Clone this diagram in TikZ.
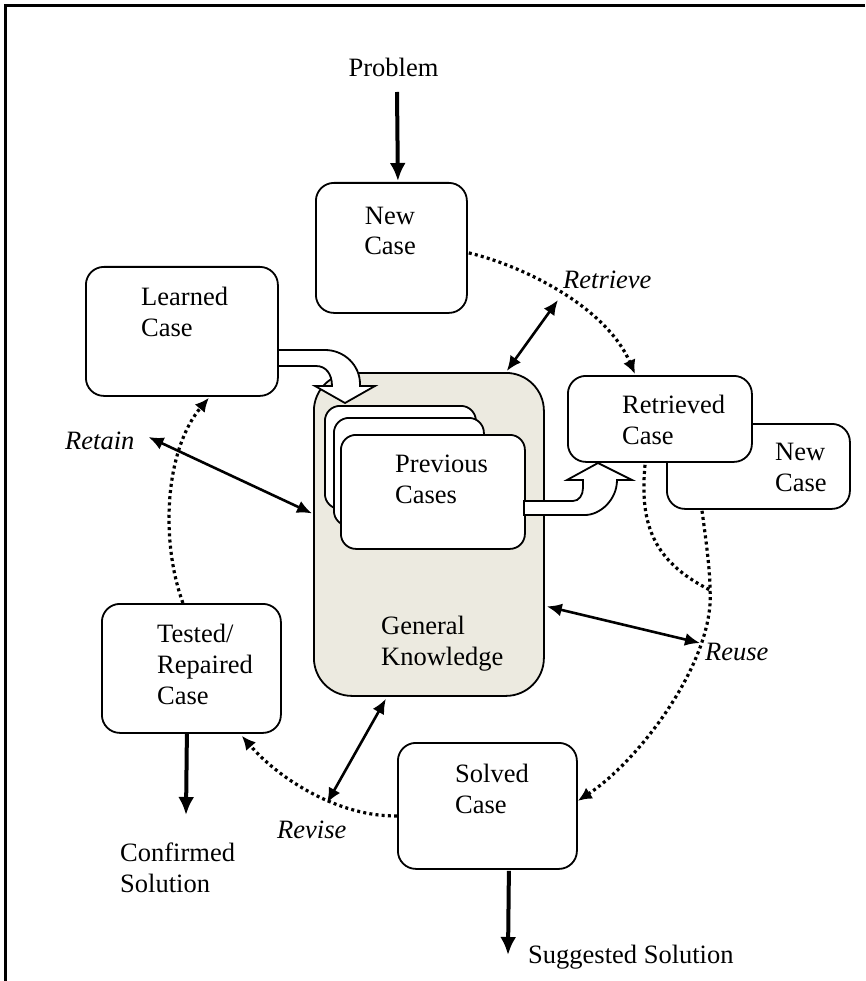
\documentclass[tikz,border=0pt]{standalone}
\usepackage{fontspec}
\setmainfont{Liberation Serif}
\usetikzlibrary{arrows.meta,calc}

\definecolor{gkfill}{RGB}{236,234,224}

\tikzset{
  casebox/.style={draw, line width=1.8pt, rounded corners=18pt, fill=white,
    inner sep=0pt, anchor=north west},
  caption/.style={inner sep=0pt, anchor=base west, align=left,
    font=\fontsize{26.5}{31}\selectfont},
  stage/.style={caption, font=\fontsize{26.5}{31}\selectfont\itshape},
  flow/.style={line width=4pt, -{Latex[length=18pt,width=16pt]}},
  link/.style={line width=2.6pt,
    {Latex[length=15pt,width=13pt]}-{Latex[length=15pt,width=13pt]}},
  dotline/.style={line width=3.2pt, dash pattern=on 3pt off 3.2pt},
  dotflow/.style={dotline, -{Latex[length=14pt,width=13pt]}},
  blockarrow/.style={draw, line width=1.8pt, fill=white, line join=miter},
}

\begin{document}
\begin{tikzpicture}[x=1pt, y=-1pt]
\useasboundingbox (0,0) rectangle (865,981);

% outer frame (top and left edges)
\draw[line width=2.5pt] (865,5.3) -- (5.3,5.3) -- (5.3,981);

% case base with general knowledge
\node[casebox, fill=gkfill, rounded corners=38pt,
      minimum width=230pt, minimum height=323pt] (genknow) at (313,372) {};

% stack of previous cases
\node[casebox, rounded corners=15pt, minimum width=151pt, minimum height=103pt] (prevback) at (324,405) {};
\node[casebox, rounded corners=15pt, minimum width=150pt, minimum height=108pt] (prevmid) at (333,417) {};
\node[casebox, rounded corners=15pt, minimum width=184pt, minimum height=114pt] (prevfront) at (340,434) {};

% block arrow: learned case into the case base
\path[blockarrow]
  (277,350) -- (325,350) .. controls (344,350) and (360,365) .. (360,384) -- (360,386)
  -- (375,386) -- (345,403) -- (315,386) -- (332,386)
  .. controls (332,374) and (326,366) .. (316,366) -- (277,366) -- cycle;

% block arrow: previous cases up to the retrieved case
\path[blockarrow]
  (524,501) -- (573,501) .. controls (579,501) and (583,495) .. (583,488) -- (583,480)
  -- (567,480) -- (598,463) -- (632,480) -- (617,480)
  .. controls (617,500) and (600,515) .. (585,515) -- (524,515) -- cycle;

% case boxes
\node[casebox, minimum width=151pt, minimum height=130pt] (newcase) at (315,182) {};
\node[casebox, minimum width=192pt, minimum height=129pt] (learned) at (85,266) {};
\node[casebox, minimum width=183pt, minimum height=85pt] (newcase2) at (666,423) {};
\node[casebox, minimum width=184pt, minimum height=86pt] (retrieved) at (567,375) {};
\node[casebox, minimum width=179pt, minimum height=129pt] (tested) at (101,603) {};
\node[casebox, minimum width=179pt, minimum height=126pt] (solved) at (397,742) {};

% texts (base anchor sits on the last line)
\node[caption, anchor=base, align=center] (problemlbl) at (393.5,77) {Problem};
\node[caption, anchor=base, align=center] (newcaselbl) at (390,255) {New\\Case};
\node[caption] (learnedlbl) at (141,336) {Learned\\Case};
\node[caption] (retrievedlbl) at (622,444) {Retrieved\\Case};
\node[caption] (newcase2lbl) at (775,491) {New\\Case};
\node[caption] (prevlbl) at (395,503) {Previous\\Cases};
\node[caption] (genlbl) at (381,665) {General\\Knowledge};
\node[caption] (testedlbl) at (157,704) {Tested/\\Repaired\\Case};
\node[caption] (solvedlbl) at (455,813) {Solved\\Case};
\node[caption] (confirmedlbl) at (120,892) {Confirmed\\Solution};
\node[caption] (suggestedlbl) at (528,963) {Suggested Solution};
\node[stage] (retainlbl) at (65,449) {Retain};
\node[stage] (retrievelbl) at (563,288) {Retrieve};
\node[stage] (reuselbl) at (705,660) {Reuse};
\node[stage] (reviselbl) at (277,838) {Revise};

% inputs and outputs
\draw[flow] ($(problemlbl.base)+(3.5,15)$) -- ($(newcase.north)+(6.5,-1)$);
\draw[flow] ($(tested.south)+(-4.5,0)$) -- ($(confirmedlbl.base west)+(66,-77)$);
\draw[flow] ($(solved.south)+(21.5,1)$) -- ($(suggestedlbl.base west)+(-20,-8)$);

% retrieve
\draw[dotflow] ($(newcase.east)+(1,5)$) .. controls (520,265) and (605,305) ..
  ($(retrieved.north west)+(68,-1)$);
\draw[link] ($(retrievelbl.base west)+(-5,12)$) -- ($(genknow.north east)+(-38,-1)$);

% reuse
\coordinate (reusejoin) at (710,590);
\draw[dotline] ($(retrieved.south west)+(78,2)$) .. controls (640,520) and (650,560) .. (reusejoin);
\draw[dotflow] ($(newcase2.south west)+(36,1)$) .. controls (706,540) and (710,570) .. (reusejoin)
  .. controls (715,660) and (640,760) .. ($(solved.east)+(0,-5)$);
\draw[link] ($(genknow.east)+(2,72)$) -- ($(reuselbl.base west)+(-5,-17)$);

% revise
\draw[dotflow] ($(solved.west)+(0,10)$) .. controls (340,817) and (280,780) ..
  ($(tested.south east)+(-40,2)$);
\draw[link] ($(genknow.south)+(-43,2)$) -- ($(reviselbl.base west)+(50,-35)$);

% retain
\draw[dotflow] ($(tested.north)+(-8.5,0)$) .. controls (160,540) and (165,450) ..
  ($(learned.south)+(27,1)$);
\draw[link] ($(retainlbl.base east)+(14,-12)$) -- ($(genknow.west)+(-1,-21)$);
\end{tikzpicture}
\end{document}
